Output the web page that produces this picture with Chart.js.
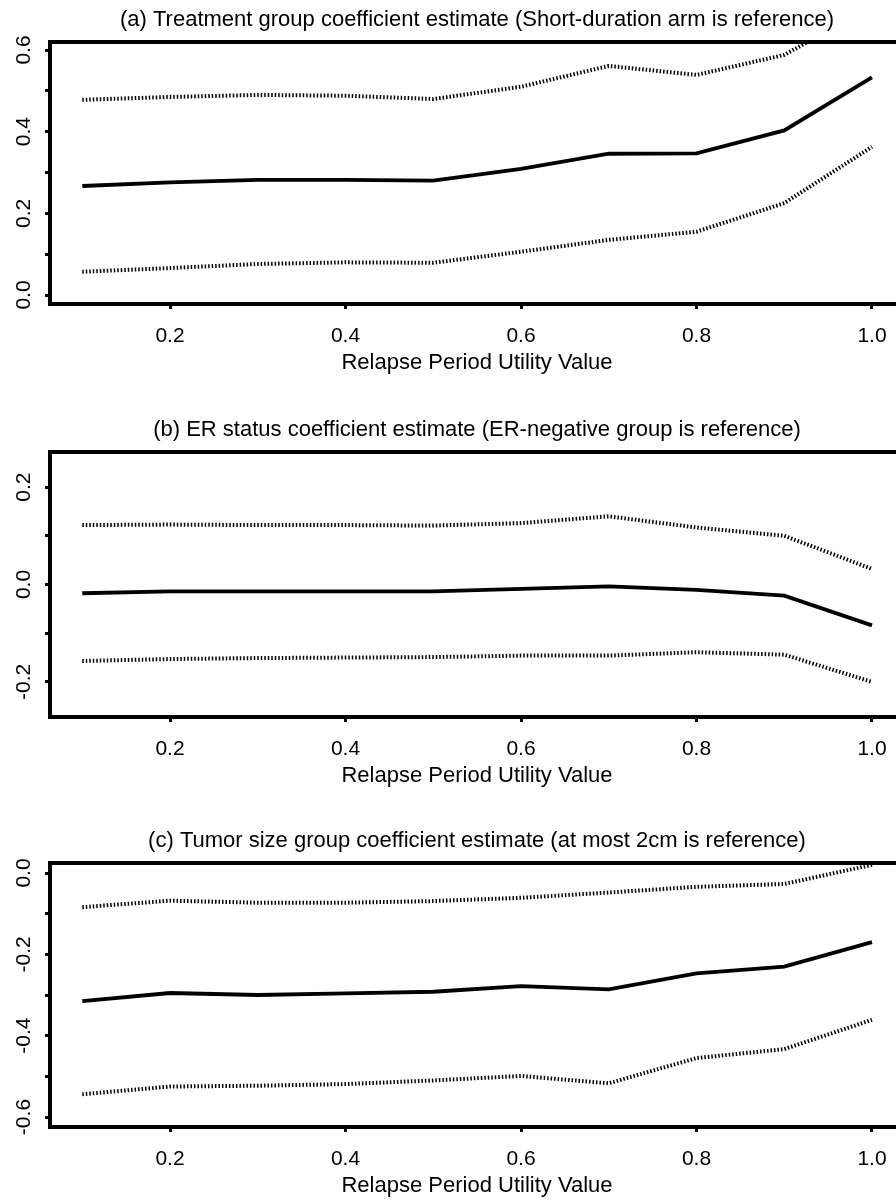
<!DOCTYPE html>
<html>
<head>
<meta charset="utf-8">
<title>Coefficient estimates by relapse period utility value</title>
<script src="https://cdn.jsdelivr.net/npm/chart.js@4/dist/chart.umd.min.js"></script>
<style>
  html, body { margin: 0; padding: 0; background: #fff; }
  body { width: 896px; height: 1202px; overflow: hidden; position: relative; }
  canvas { position: absolute; left: 0; }
</style>
</head>
<body>
<canvas id="panelA" width="954" height="376" style="top:0px"></canvas>
<canvas id="panelB" width="954" height="379" style="top:410px"></canvas>
<canvas id="panelC" width="954" height="378" style="top:821px"></canvas>

<script>
// Relapse period utility values (x axis)
const utility = [0.1, 0.2, 0.3, 0.4, 0.5, 0.6, 0.7, 0.8, 0.9, 1.0];
const xTicks = [0.2, 0.4, 0.6, 0.8, 1.0];

// (a) Treatment group
const estA   = [0.267, 0.276, 0.282, 0.282, 0.280, 0.309, 0.346, 0.347, 0.403, 0.533];
const upperA = [0.478, 0.485, 0.490, 0.488, 0.480, 0.510, 0.561, 0.539, 0.588, 0.707];
const lowerA = [0.057, 0.066, 0.076, 0.080, 0.079, 0.106, 0.135, 0.155, 0.225, 0.363];
const yTicksA = [0.0, 0.1, 0.2, 0.3, 0.4, 0.5, 0.6];

// (b) ER status
const estB   = [-0.018, -0.014, -0.014, -0.014, -0.014, -0.009, -0.004, -0.011, -0.023, -0.084];
const upperB = [0.122, 0.123, 0.122, 0.122, 0.121, 0.126, 0.140, 0.117, 0.100, 0.032];
const lowerB = [-0.157, -0.153, -0.151, -0.150, -0.149, -0.146, -0.146, -0.139, -0.144, -0.200];
const yTicksB = [-0.2, -0.1, 0.0, 0.1, 0.2];

// (c) Tumor size group
const estC   = [-0.315, -0.295, -0.300, -0.296, -0.292, -0.278, -0.286, -0.247, -0.230, -0.170];
const upperC = [-0.084, -0.068, -0.073, -0.073, -0.069, -0.061, -0.048, -0.034, -0.027, 0.020];
const lowerC = [-0.544, -0.525, -0.523, -0.519, -0.510, -0.499, -0.517, -0.455, -0.433, -0.361];
const yTicksC = [-0.6, -0.5, -0.4, -0.3, -0.2, -0.1, 0.0];

const FAMILY = '"Liberation Sans", Arial, Helvetica, sans-serif';
const TICK_FONT = { family: FAMILY, size: 21, weight: 'normal' };
const TITLE_FONT = { family: FAMILY, size: 22, weight: 'normal' };

// Draw the full box around the plot region (R style)
const boxPlugin = {
    id: 'box',
    afterDraw(chart) {
        const a = chart.chartArea;
        const ctx = chart.ctx;
        ctx.save();
        ctx.strokeStyle = '#000';
        ctx.lineWidth = 4;
        ctx.strokeRect(a.left, a.top, a.right - a.left, a.bottom - a.top);
        ctx.restore();
    }
};

function toPoints(values) {
    return utility.map((u, i) => ({ x: u, y: values[i] }));
}

function makePanel(id, title, est, lower, upper, yMin, yMax, yTicks, labelPad) {
    const ctx = document.getElementById(id).getContext('2d');
    const dotted = { borderColor: '#000', borderWidth: 4, borderDash: [1.5, 2.0], pointRadius: 0, fill: false, tension: 0 };

    new Chart(ctx, {
        type: 'line',
        data: {
            datasets: [
                Object.assign({ label: 'upper', data: toPoints(upper) }, dotted),
                Object.assign({ label: 'lower', data: toPoints(lower) }, dotted),
                { label: 'estimate', data: toPoints(est), borderColor: '#000', borderWidth: 3.8, pointRadius: 0, fill: false, tension: 0 }
            ]
        },
        options: {
            responsive: false,
            animation: false,
            events: [],
            layout: { padding: 0 },
            plugins: {
                legend: { display: false },
                tooltip: { enabled: false },
                title: {
                    display: true,
                    text: title,
                    color: '#000',
                    font: TITLE_FONT,
                    padding: { top: 7, bottom: 8.6 }
                }
            },
            scales: {
                x: {
                    type: 'linear',
                    min: 0.0632,
                    max: 1.0365,
                    afterBuildTicks: s => { s.ticks = xTicks.map(v => ({ value: v })); },
                    afterFit: s => { s.height = 72; },
                    ticks: {
                        callback: v => v.toFixed(1),
                        color: '#000',
                        font: TICK_FONT,
                        padding: 15,
                        maxRotation: 0,
                        autoSkip: false
                    },
                    grid: { drawOnChartArea: false, drawTicks: true, tickLength: 5, lineWidth: 3, color: '#000' },
                    border: { display: false },
                    title: {
                        display: true,
                        text: 'Relapse Period Utility Value',
                        color: '#000',
                        font: TITLE_FONT,
                        padding: { top: 0, bottom: 0 }
                    }
                },
                y: {
                    type: 'linear',
                    min: yMin,
                    max: yMax,
                    afterBuildTicks: s => { s.ticks = yTicks.map(v => ({ value: v })); },
                    afterFit: s => { s.width = 50; },
                    ticks: {
                        callback: v => (Math.round(v * 10) % 2 === 0 ? v.toFixed(1) : ''),
                        minRotation: 90,
                        maxRotation: 90,
                        crossAlign: 'center',
                        padding: labelPad,
                        autoSkip: false,
                        color: '#000',
                        font: TICK_FONT
                    },
                    grid: { drawOnChartArea: false, drawTicks: true, tickLength: 5, lineWidth: 3, color: '#000' },
                    border: { display: false }
                },
                // empty right margin so the title centres over the plot box
                yRight: {
                    type: 'linear',
                    position: 'right',
                    display: true,
                    afterFit: s => { s.width = 50; },
                    ticks: { display: false },
                    grid: { display: false },
                    border: { display: false }
                }
            }
        },
        plugins: [boxPlugin]
    });
}

document.addEventListener('DOMContentLoaded', function() {
    makePanel('panelA', '(a) Treatment group coefficient estimate (Short-duration arm is reference)',
        estA, lowerA, upperA, -0.022, 0.6196, yTicksA, 6);
    makePanel('panelB', '(b) ER status coefficient estimate (ER-negative group is reference)',
        estB, lowerB, upperB, -0.272, 0.272, yTicksB, 3);
    makePanel('panelC', '(c) Tumor size group coefficient estimate (at most 2cm is reference)',
        estC, lowerC, upperC, -0.6245, 0.0246, yTicksC, 3);
});
</script>
</body>
</html>
